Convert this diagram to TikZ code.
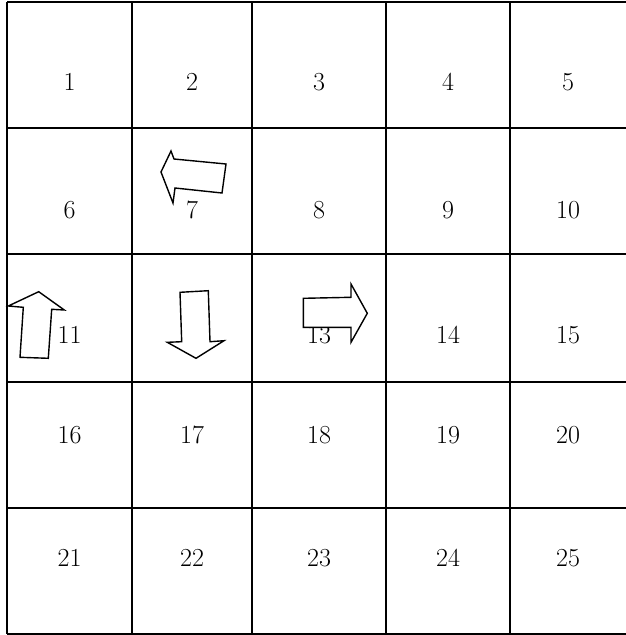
\documentclass[tikz,border=0pt]{standalone}
\begin{document}
\begin{tikzpicture}[x=1pt,y=-1pt,
    gridline/.style={line width=2pt},
    blockarrow/.style={draw,fill=white,line width=1.4pt,line join=miter},
    cellnum/.style={font=\fontsize{26}{30}\selectfont,inner sep=0pt}]
  \useasboundingbox (0,0) rectangle (626,635);
  % numbers first, the arrows lie over them
  \foreach \y [count=\r from 0] in {82,210,335,435,558}
    \foreach \x [count=\c] in {69.5,192,319,448,568}
    {
      \pgfmathtruncatemacro\k{5*\r+\c}
      \node[cellnum] (n\k) at (\x,\y) {\k};
    }
  % grid
  \foreach \y in {2,128,254,382,508,634}
    \draw[gridline] (7,\y) -- (626,\y);
  \foreach \x in {7,132,252,386,510}
    \draw[gridline] (\x,2) -- (\x,634);
  % arrows
  \draw[blockarrow] (161,172) -- (171,151) -- (174,159) -- (226,164)
    -- (222,193) -- (175,188) -- (173,203) -- cycle;
  \draw[blockarrow] (38.7,291.7) -- (64.3,310) -- (51.7,309.3) -- (48.3,358.3)
    -- (20,357.3) -- (23.3,307.3) -- (8.3,306) -- cycle;
  \draw[blockarrow] (180,292.3) -- (208.3,290.7) -- (210,341.7) -- (224,340.7)
    -- (196,358.3) -- (167.3,342.3) -- (181.7,341.7) -- cycle;
  \draw[blockarrow] (303.3,298.3) -- (351,297.3) -- (351,284) -- (367.3,313.3)
    -- (351,342.3) -- (351,327.3) -- (303.3,327.3) -- cycle;
\end{tikzpicture}
\end{document}
